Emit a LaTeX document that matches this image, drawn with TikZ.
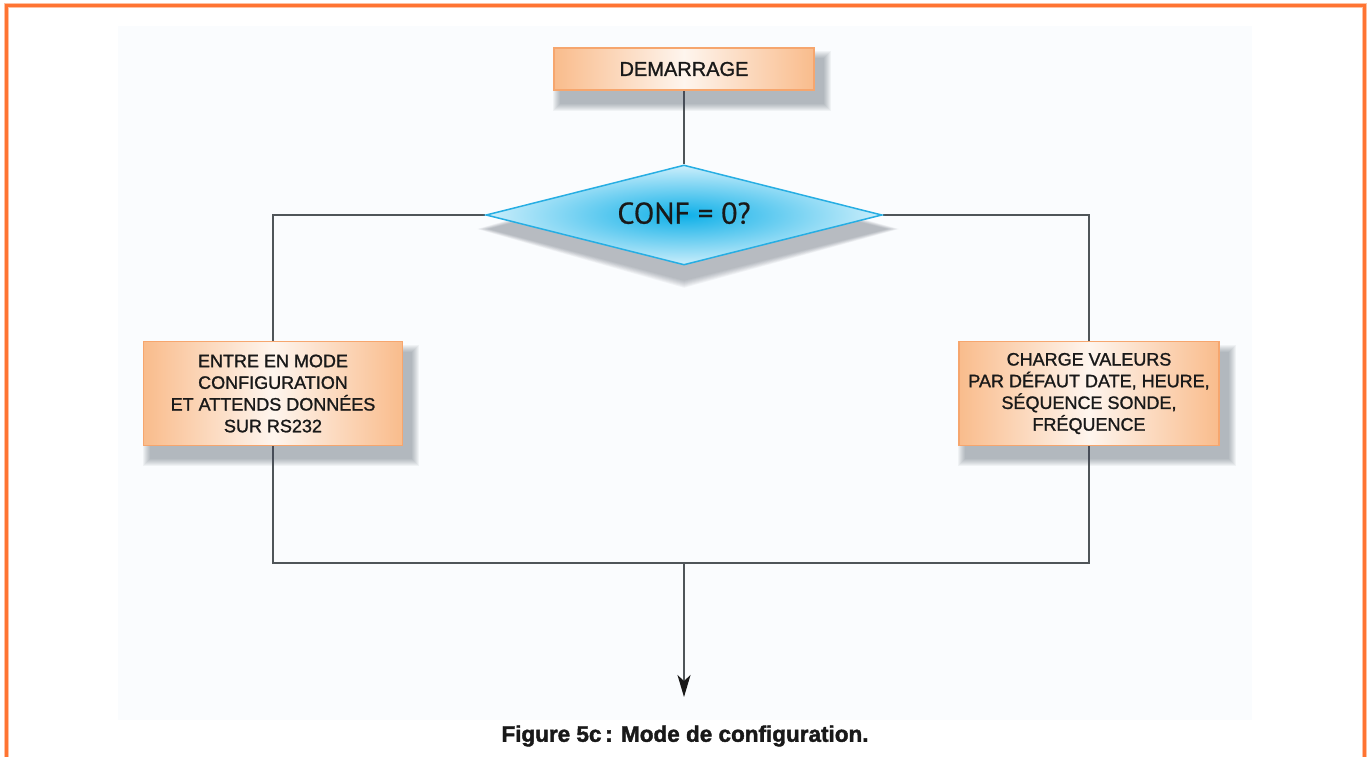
\documentclass[tikz,border=0pt]{standalone}
\usepackage{fontspec}
\setmainfont{Liberation Sans}
\newfontfamily\diafont[FakeBold=0.6]{PT Sans}
\newfontfamily\boxfont[FakeBold=1.3]{Liberation Sans}
\newfontfamily\capfont[FakeBold=1.8]{Liberation Sans Bold}
\usetikzlibrary{shapes.geometric,arrows.meta}
\definecolor{frameor}{HTML}{FF7432}
\definecolor{boxedge}{HTML}{F6A66E}
\definecolor{boxfill}{HTML}{F9BC8C}
\definecolor{panel}{HTML}{FAFCFE}
\definecolor{dedge}{HTML}{27AEE3}
\definecolor{dcore}{HTML}{0FB0E8}
\definecolor{dout}{HTML}{CBEEFB}
\definecolor{linec}{HTML}{4F5559}
\definecolor{shadc}{HTML}{404858}
\pgfdeclarelayer{back}
\pgfdeclarelayer{lines}
\pgfdeclarelayer{shadows}
\pgfsetlayers{back,lines,shadows,main}
% soft rectangular shadow under a named node
\newcommand{\rectshadow}[1]{%
  \begin{pgfonlayer}{shadows}
    \foreach \r in {0,...,7}{%
      \fill[shadc, opacity=0.055]
        ([xshift={\r pt}, yshift={-4pt-\r pt}]#1.north west)
        rectangle ([xshift={16pt-\r pt}, yshift={-20pt+\r pt}]#1.south east);}
  \end{pgfonlayer}}
\newcommand{\diashadow}[1]{%
  \begin{pgfonlayer}{shadows}
    \foreach \r in {0,...,7}{%
      \fill[shadc, opacity=0.05]
        ([xshift={-8pt+1.6*\r pt}, yshift={-14pt}]#1.west)
        -- ([yshift={-6pt-\r pt}]#1.north)
        -- ([xshift={16pt-1.6*\r pt}, yshift={-14pt}]#1.east)
        -- ([yshift={-22pt+\r pt}]#1.south) -- cycle;}
  \end{pgfonlayer}}
\begin{document}
\begin{tikzpicture}[x=1pt,y=-1pt,
  proc/.style={draw=boxedge, line width=1.6pt, left color=boxfill, right color=boxfill, middle color=boxfill!15!white,
    align=center, inner sep=0pt, text=black!90},
  dec/.style={diamond, draw=dedge, line width=1.5pt, inner color=dcore, outer color=dout,
    minimum width=396pt, minimum height=100pt, aspect=3.96, inner sep=0pt, text=black!90},
  conn/.style={draw=linec, line width=1.4pt},
  arr/.style={conn, -{Stealth[length=22pt,width=13pt,inset=6pt,color=black!90]}}]
\useasboundingbox (0,0) rectangle (1370,757);
\begin{pgfonlayer}{back}
  \fill[panel] (118,26) rectangle (1252,720);
  \draw[frameor!45, line width=5pt] (6,760) -- (6,6) -- (1364,6) -- (1364,760);
  \draw[frameor, line width=3pt] (6,760) -- (6,6) -- (1364,6) -- (1364,760);
\end{pgfonlayer}

\node[proc, minimum width=260pt, minimum height=42pt, font=\boxfont\fontsize{20}{24}\selectfont] (S) at (684,69) {DEMARRAGE};
\node[dec, font=\diafont\fontsize{30}{34}\selectfont] (D) at (684,215) {\raisebox{4pt}{CONF = 0?}};
\node[proc, minimum width=259pt, minimum height=104pt, font=\boxfont\fontsize{18}{21.7}\selectfont] (L) at (273,393.5)
  {ENTRE EN MODE\\CONFIGURATION\\ET ATTENDS DONNÉES\\SUR RS232};
\node[proc, minimum width=260pt, minimum height=104pt, font=\boxfont\fontsize{18}{21.7}\selectfont] (R) at (1089,393.5)
  {CHARGE VALEURS\\PAR DÉFAUT DATE, HEURE,\\SÉQUENCE SONDE,\\FRÉQUENCE};
\rectshadow{S}
\rectshadow{L}
\rectshadow{R}
\diashadow{D}
\coordinate (J) at (684,563);
\coordinate (E) at (684,697);

\begin{pgfonlayer}{lines}
  \draw[conn] (S.south) -- (D.north);
  \draw[conn] (D.west) -| (L.north);
  \draw[conn] (D.east) -| (R.north);
  \draw[conn] (L.south) |- (J);
  \draw[conn] (R.south) |- (J);
  \draw[arr] (J) -- (E);
\end{pgfonlayer}

\node[font=\capfont\fontsize{22.5}{26}\selectfont, text=black!90] (C) at (685,736) {Figure 5c\,: Mode de configuration.};
\end{tikzpicture}
\end{document}
